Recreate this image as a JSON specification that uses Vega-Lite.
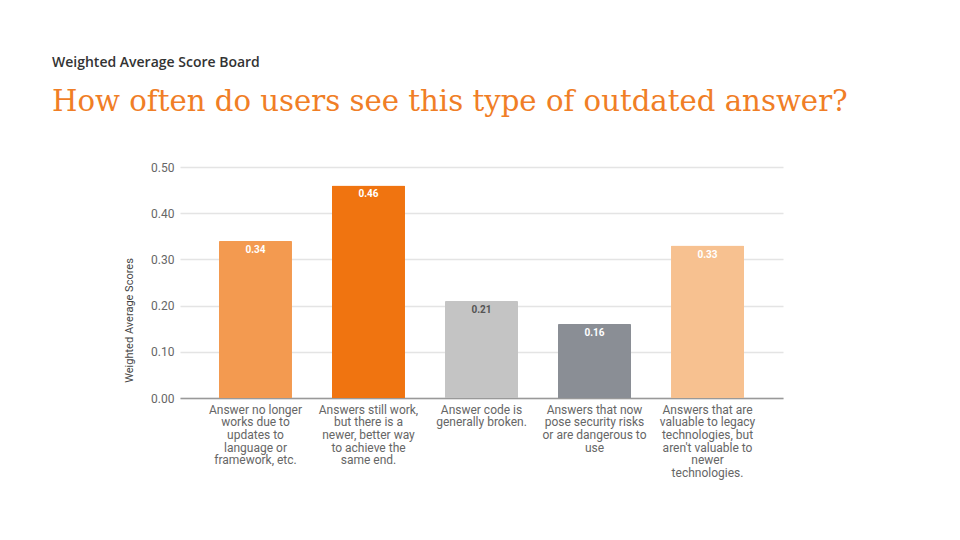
{
  "$schema": "https://vega.github.io/schema/vega-lite/v6.json",
  "autosize": {"type": "none"},
  "width": 603,
  "height": 231,
  "padding": {"left": 180, "top": 167, "right": 177, "bottom": 142},
  "background": "white",
  "title": {
    "text": "Weighted Average Score Board",
    "subtitle": "How often do users see this type of outdated answer?",
    "anchor": "start",
    "frame": "group",
    "dx": -128,
    "offset": 44,
    "font": "Open Sans",
    "fontSize": 14,
    "fontWeight": 600,
    "color": "#333333",
    "subtitleFont": "DejaVu Serif",
    "subtitleFontSize": 29.2,
    "subtitleColor": "#F07E26",
    "subtitlePadding": 18
  },
  "data": {
    "values": [
      {"category": "Answer no longer|works due to|updates to|language or|framework, etc.", "value": 0.34},
      {"category": "Answers still work,|but there is a|newer, better way|to achieve the|same end.", "value": 0.46},
      {"category": "Answer code is|generally broken.", "value": 0.21},
      {"category": "Answers that now|pose security risks|or are dangerous to|use", "value": 0.16},
      {"category": "Answers that are|valuable to legacy|technologies, but|aren't valuable to|newer|technologies.", "value": 0.33}
    ]
  },
  "encoding": {
    "x": {
      "field": "category",
      "type": "nominal",
      "sort": null,
      "scale": {"paddingInner": 0.354, "paddingOuter": 0.345},
      "axis": {
        "title": null,
        "labelAngle": 0,
        "labelExpr": "split(datum.label, '|')",
        "labelFont": "Roboto",
        "labelFontSize": 12,
        "labelColor": "#666666",
        "labelLineHeight": 12.7,
        "labelPadding": 6,
        "labelLimit": 0,
        "ticks": false,
        "domainColor": "#999999",
        "domainWidth": 1.5
      }
    },
    "y": {
      "field": "value",
      "type": "quantitative",
      "scale": {"domain": [0, 0.5], "nice": false},
      "axis": {
        "title": "Weighted Average Scores",
        "titleFont": "Roboto",
        "titleFontSize": 11,
        "titleFontWeight": "normal",
        "titleColor": "#444444",
        "titlePadding": 16,
        "titleY": 153,
        "values": [0, 0.1, 0.2, 0.3, 0.4, 0.5],
        "format": ".2f",
        "labelFont": "Roboto",
        "labelFontSize": 12,
        "labelColor": "#666666",
        "labelPadding": 6,
        "ticks": false,
        "domain": false,
        "gridColor": "#e4e4e4",
        "gridWidth": 1.5
      }
    }
  },
  "layer": [
    {
      "mark": {"type": "bar", "cornerRadiusTopLeft": 1, "cornerRadiusTopRight": 1},
      "encoding": {
        "color": {
          "field": "category",
          "type": "nominal",
          "sort": null,
          "scale": {"range": ["#F39A50", "#F07410", "#C4C4C4", "#8A8E95", "#F7C190"]},
          "legend": null
        }
      }
    },
    {
      "mark": {"type": "text", "baseline": "top", "dy": 4, "font": "Roboto", "fontSize": 10, "fontWeight": "bold"},
      "encoding": {
        "text": {"field": "value", "type": "quantitative", "format": ".2f"},
        "color": {
          "condition": {"test": "datum.value > 0.2 && datum.value < 0.22", "value": "#555555"},
          "value": "#ffffff"
        }
      }
    }
  ],
  "config": {"view": {"stroke": null}}
}
